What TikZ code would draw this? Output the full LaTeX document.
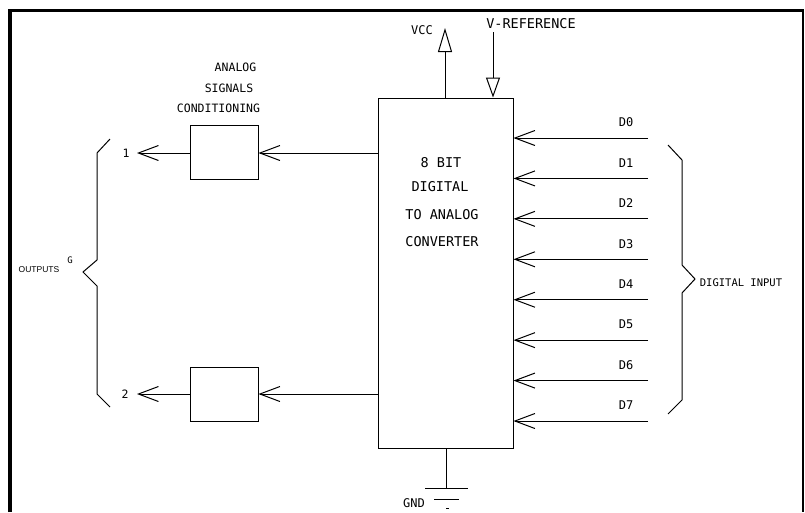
\documentclass[tikz,border=0pt]{standalone}
\usepackage{fontspec}
\newfontfamily\cadfont{DejaVu Sans Mono}
\newfontfamily\plainsans{Liberation Sans}
\usetikzlibrary{arrows.meta,positioning}
\tikzset{
  wire/.style={line width=1pt},
  dacbox/.style={draw,line width=1pt,minimum width=135pt,minimum height=350pt,inner sep=0pt},
  condbox/.style={draw,line width=1pt,minimum width=68pt,minimum height=54pt,inner sep=0pt},
  sigline/.style={-{Straight Barb[length=20pt,width=15pt,line width=1pt]},line width=1pt},
  supplyup/.style={-{Triangle[open,length=24pt,width=14pt,line width=1pt]},line width=1pt},
  refdown/.style={-{Triangle[open,length=20pt,width=14pt,line width=1pt]},line width=1pt},
  bigtxt/.style={font=\cadfont\fontsize{13.5}{16}\selectfont,inner sep=0pt},
  midtxt/.style={font=\cadfont\fontsize{12}{14}\selectfont,inner sep=0pt},
  smalltxt/.style={font=\cadfont\fontsize{11.5}{14}\selectfont,inner sep=0pt},
  tinytxt/.style={font=\cadfont\fontsize{10.5}{12}\selectfont,inner sep=0pt}
}
\begin{document}
\begin{tikzpicture}[x=1pt,y=-1pt]
  \useasboundingbox (0,0) rectangle (805,512);
  % frame
  \draw[line width=4pt] (10,512) -- (10,10.5);
  \draw[line width=3pt] (8,10.5) -- (804,10.5);
  \draw[line width=1.5pt] (803,9) -- (803,512);
  % converter
  \node[dacbox] (dac) at (445.5,273) {};
  \node[bigtxt] (t1) at (441,163) {8 BIT};
  \node[bigtxt] (t2) at (440,187) {DIGITAL};
  \node[bigtxt] (t3) at (442,215) {TO ANALOG};
  \node[bigtxt] (t4) at (442,242) {CONVERTER};
  % supply and reference
  \coordinate (vcctip) at (445,28);
  \coordinate (vrefin) at (493,32);
  \draw[supplyup] (vcctip |- dac.north) -- (vcctip);
  \draw[refdown] (vrefin) -- (vrefin |- dac.north);
  \node[midtxt] (vcc) at (422,30) {VCC};
  \node[bigtxt] (vref) at (531,24) {V-REFERENCE};
  % ground
  \coordinate (gnd) at (446,488);
  \draw[wire] (gnd |- dac.south) -- (gnd);
  \draw[wire] (425,488) -- (468,488);
  \draw[wire] (434,499) -- (459,499);
  \draw[wire] (446,508) -- (449,508);
  \node[midtxt] (gndlbl) at (414,503) {GND};
  % conditioning
  \node[condbox] (sc1) at (224,152) {};
  \node[condbox] (sc2) at (224,394) {};
  \node[smalltxt] (a1) at (235.5,67.5) {ANALOG};
  \node[smalltxt] (a2) at (229,88) {SIGNALS};
  \node[smalltxt] (a3) at (218.5,108) {CONDITIONING};
  \coordinate (o1) at (137,153);
  \coordinate (o2) at (137,394);
  \draw[sigline] (dac.west |- o1) -- (sc1.east |- o1);
  \draw[sigline] (sc1.west |- o1) -- (o1);
  \draw[sigline] (dac.west |- o2) -- (sc2.east |- o2);
  \draw[sigline] (sc2.west |- o2) -- (o2);
  \node[smalltxt] (n1) at (126,153) {1};
  \node[smalltxt] (n2) at (125,394) {2};
  % outputs brace
  \draw[wire] (110,139) -- (97,153) -- (97,260) -- (83,272) -- (97,286) -- (97,394) -- (110,407);
  \node[font=\plainsans\fontsize{8.5}{10}\selectfont,inner sep=0pt] (outs) at (39,270) {OUTPUTS};
  \node[font=\cadfont\fontsize{9}{10}\selectfont,inner sep=0pt] (g) at (70,260) {G};
  % data inputs
  \foreach \i in {0,...,7}{
    \coordinate (din\i) at (648,{138+40.43*\i});
    \draw[sigline] (din\i) -- (dac.east |- din\i);
    \node[midtxt] (d\i) at (626,{122.5+40.43*\i}) {D\i};
  }
  \draw[wire] (668,145) -- (682,160) -- (682,265) -- (695,279) -- (682,293) -- (682,400) -- (668,414);
  \node[tinytxt] (dig) at (741,283) {DIGITAL INPUT};
\end{tikzpicture}
\end{document}
